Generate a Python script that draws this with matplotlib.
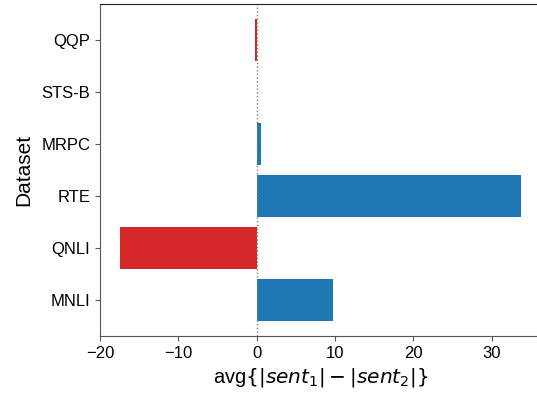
import matplotlib
matplotlib.use("Agg")
import matplotlib.pyplot as plt

plt.rcParams["font.family"] = ["Liberation Sans", "DejaVu Sans"]
plt.rcParams["mathtext.fontset"] = "dejavusans"

datasets = ["MNLI", "QNLI", "RTE", "MRPC", "STS-B", "QQP"]
diffs = [9.8, -17.4, 33.8, 0.6, 0.0, -0.2]

colors = ["#d62728" if d < 0 else "#1f77b4" for d in diffs]

fig = plt.figure(figsize=(5.37, 3.96), dpi=100)
ax = fig.add_axes([0.1862, 0.1515, 0.822, 0.838])

ax.barh(datasets, diffs, height=0.8, color=colors)
ax.axvline(0, color="gray", linestyle=":", linewidth=1)

ax.set_xticks([-20, -10, 0, 10, 20, 30])
ax.tick_params(labelsize=12, colors="#555555", labelcolor="black")
for side in ["left", "bottom"]:
    ax.spines[side].set_color("#555555")
ax.spines["top"].set_color("#222222")

ax.set_ylabel("Dataset", fontsize=15, labelpad=5.5)
ax.set_xlabel(r"avg$\{|sent_1| - |sent_2|\}$", fontsize=14.5)

fig.savefig("out.png", dpi=100)
